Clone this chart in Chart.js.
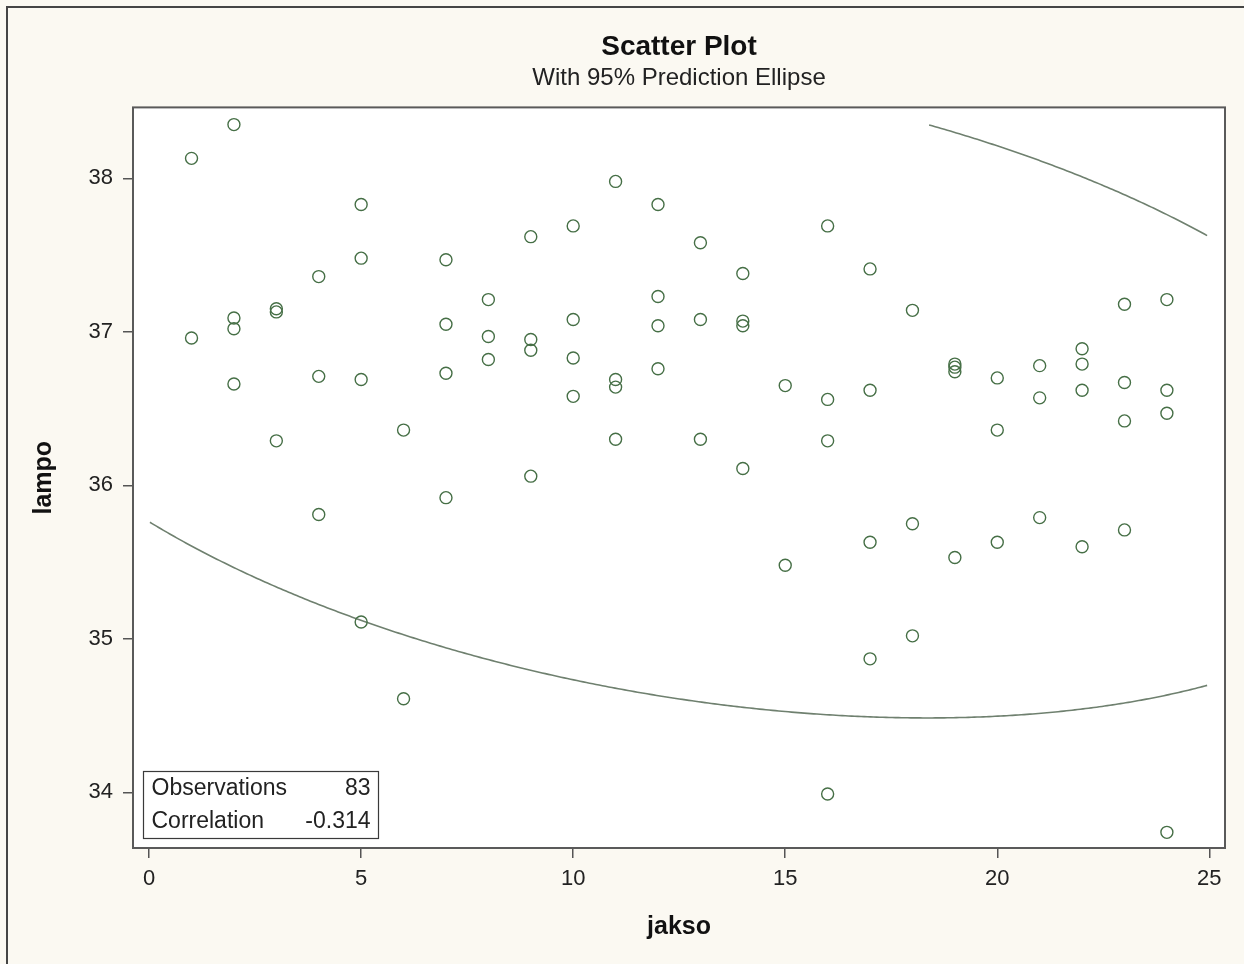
<!DOCTYPE html>
<html>
<head>
<meta charset="utf-8">
<title>Scatter Plot</title>
<script src="https://cdn.jsdelivr.net/npm/chart.js@4.4.1/dist/chart.umd.min.js"></script>
<style>
  html, body { margin: 0; padding: 0; background: #fbf9f2; }
  #wrap { position: relative; width: 1244px; height: 964px; }
</style>
</head>
<body>
<div id="wrap"><canvas id="chart"></canvas></div>
<script>
// observations, grouped by jakso
const jakso = [
  1, 1,
  2, 2, 2, 2,
  3, 3, 3,
  4, 4, 4,
  5, 5, 5, 5,
  6, 6,
  7, 7, 7, 7,
  8, 8, 8,
  9, 9, 9, 9,
  10, 10, 10, 10,
  11, 11, 11, 11,
  12, 12, 12, 12,
  13, 13, 13,
  14, 14, 14, 14,
  15, 15,
  16, 16, 16, 16,
  17, 17, 17, 17,
  18, 18, 18,
  19, 19, 19, 19,
  20, 20, 20,
  21, 21, 21,
  22, 22, 22, 22,
  23, 23, 23, 23,
  24, 24, 24, 24
]
const lampo = [
  38.13, 36.96,
  38.35, 37.09, 37.02, 36.66,
  37.15, 37.13, 36.29,
  37.36, 36.71, 35.81,
  37.83, 37.48, 36.69, 35.11,
  36.36, 34.61,
  37.47, 37.05, 36.73, 35.92,
  37.21, 36.97, 36.82,
  37.62, 36.95, 36.88, 36.06,
  37.69, 37.08, 36.83, 36.58,
  37.98, 36.69, 36.64, 36.30,
  37.83, 37.23, 37.04, 36.76,
  37.58, 37.08, 36.30,
  37.38, 37.07, 37.04, 36.11,
  36.65, 35.48,
  37.69, 36.56, 36.29, 33.99,
  37.41, 36.62, 35.63, 34.87,
  37.14, 35.75, 35.02,
  36.79, 36.77, 36.74, 35.53,
  36.70, 36.36, 35.63,
  36.78, 36.57, 35.79,
  36.89, 36.79, 36.62, 35.60,
  37.18, 36.67, 36.42, 35.71,
  37.21, 36.62, 36.47, 33.74
]

const xTicks = [0, 5, 10, 15, 20, 25]
const yTicks = [34, 35, 36, 37, 38]
const statLabels = ['Observations', 'Correlation']
const statValues = [String(lampo.length), '-0.314']

// 95% prediction ellipse from the sample mean and covariance,
// only kept inside the tick range of x and the data range of y
const predictionEllipse = (xs, ys, alpha) => {
  const n = xs.length
  const mx = xs.reduce((s, v) => s + v, 0) / n
  const my = ys.reduce((s, v) => s + v, 0) / n
  let sxx = 0, syy = 0, sxy = 0
  for (let i = 0; i < n; i++) {
    sxx += (xs[i] - mx) ** 2
    syy += (ys[i] - my) ** 2
    sxy += (xs[i] - mx) * (ys[i] - my)
  }
  sxx /= n - 1; syy /= n - 1; sxy /= n - 1
  const df2 = n - 2
  const f = (df2 / 2) * (Math.pow(alpha, -2 / df2) - 1)   // F(2, n-2) quantile
  const k = Math.sqrt(2 * (n + 1) * (n - 1) / (n * (n - 2)) * f)
  const a = Math.sqrt(sxx)
  const b = sxy / a
  const d = Math.sqrt(syy - b * b)
  const xLo = xTicks[0], xHi = xTicks[xTicks.length - 1]
  const yLo = Math.min(...ys), yHi = Math.max(...ys)
  const pts = []
  for (let i = 0; i <= 1440; i++) {
    const t = i / 1440 * 2 * Math.PI
    const x = mx + k * a * Math.cos(t)
    const y = my + k * (b * Math.cos(t) + d * Math.sin(t))
    const inside = x >= xLo && x <= xHi && y >= yLo && y <= yHi
    pts.push({x: x, y: inside ? y : null})
  }
  return pts
}

const markColor = '#466f46'
const curveColor = '#6f806f'
const frameColor = '#5a5a5a'

const backdrop = {
  id: 'backdrop',
  beforeDraw(chart) {
    const {ctx, chartArea: a, width, height} = chart
    ctx.save()
    ctx.fillStyle = '#fbf9f2'
    ctx.fillRect(0, 0, width, height)
    ctx.strokeStyle = '#454545'
    ctx.lineWidth = 2
    ctx.beginPath()
    ctx.moveTo(7, height)
    ctx.lineTo(7, 7)
    ctx.lineTo(width, 7)
    ctx.stroke()
    ctx.fillStyle = '#ffffff'
    ctx.fillRect(a.left, a.top, a.right - a.left, a.bottom - a.top)
    ctx.restore()
  },
  afterDatasetsDraw(chart) {
    const {ctx, chartArea: a} = chart
    ctx.save()
    ctx.strokeStyle = frameColor
    ctx.lineWidth = 2
    ctx.strokeRect(a.left, a.top, a.right - a.left, a.bottom - a.top)

    // statistics inset
    const bx = a.left + 10.5, by = a.bottom - 76.5, bw = 235, bh = 67
    ctx.fillStyle = '#ffffff'
    ctx.fillRect(bx, by, bw, bh)
    ctx.strokeStyle = '#3a3a3a'
    ctx.lineWidth = 1.2
    ctx.strokeRect(bx, by, bw, bh)
    ctx.font = '23px "Liberation Sans", Arial, sans-serif'
    ctx.fillStyle = '#222'
    ctx.textBaseline = 'alphabetic'
    statLabels.forEach((label, i) => {
      const y = by + 23.5 + i * 32.5
      ctx.textAlign = 'left'
      ctx.fillText(label, bx + 8, y)
      ctx.textAlign = 'right'
      ctx.fillText(statValues[i], bx + bw - 8, y)
    })
    ctx.restore()
  }
}

const tickFont = {family: '"Liberation Sans", Arial, sans-serif', size: 22}
const labelFont = {family: '"Liberation Sans", Arial, sans-serif', size: 25, weight: 'bold'}

const points = jakso.map((x, i) => ({x: x, y: lampo[i]}))

new Chart(document.getElementById('chart'), {
  type: 'scatter',
  data: {
    datasets: [
      {
        label: 'lampo',
        data: points,
        pointStyle: 'circle',
        pointRadius: 6,
        pointBorderWidth: 1.4,
        borderColor: markColor,
        backgroundColor: 'rgba(0,0,0,0)'
      },
      {
        label: 'ellipse',
        data: predictionEllipse(jakso, lampo, 0.05),
        showLine: true,
        spanGaps: false,
        pointRadius: 0,
        borderWidth: 1.6,
        borderColor: curveColor,
        backgroundColor: curveColor
      }
    ]
  },
  options: {
    responsive: true,
    maintainAspectRatio: false,
    animation: false,
    layout: {padding: {top: 10, left: 0, right: 19, bottom: 0}},
    plugins: {
      legend: {display: false},
      tooltip: {enabled: false},
      title: {
        display: true,
        fullSize: false,
        text: 'Scatter Plot',
        color: '#111',
        font: {family: '"Liberation Sans", Arial, sans-serif', size: 28, weight: 'bold'},
        padding: {top: 20, bottom: 0}
      },
      subtitle: {
        display: true,
        fullSize: false,
        text: 'With 95% Prediction Ellipse',
        color: '#222',
        font: {family: '"Liberation Sans", Arial, sans-serif', size: 24},
        padding: {top: 0, bottom: 15}
      }
    },
    scales: {
      x: {
        type: 'linear',
        min: -0.38,
        max: 25.37,
        afterFit: s => { s.height = 116 },
        afterBuildTicks: s => { s.ticks = xTicks.map(v => ({value: v})) },
        ticks: {font: tickFont, color: '#222', padding: 8, maxRotation: 0},
        grid: {display: true, drawOnChartArea: false, drawTicks: true, tickLength: 10, color: '#555', lineWidth: 1.5},
        border: {display: false},
        title: {display: true, text: 'jakso', font: labelFont, color: '#111', padding: {top: 0, bottom: 22}}
      },
      y: {
        type: 'linear',
        min: 33.638,
        max: 38.462,
        afterFit: s => { s.width = 133 },
        afterBuildTicks: s => { s.ticks = yTicks.map(v => ({value: v})) },
        ticks: {font: tickFont, color: '#222', padding: 10},
        grid: {display: true, drawOnChartArea: false, drawTicks: true, tickLength: 10, color: '#555', lineWidth: 1.5},
        border: {display: false},
        title: {display: true, text: 'lampo', font: labelFont, color: '#111', padding: {top: 29, bottom: 0}}
      }
    }
  },
  plugins: [backdrop]
})
</script>
</body>
</html>
